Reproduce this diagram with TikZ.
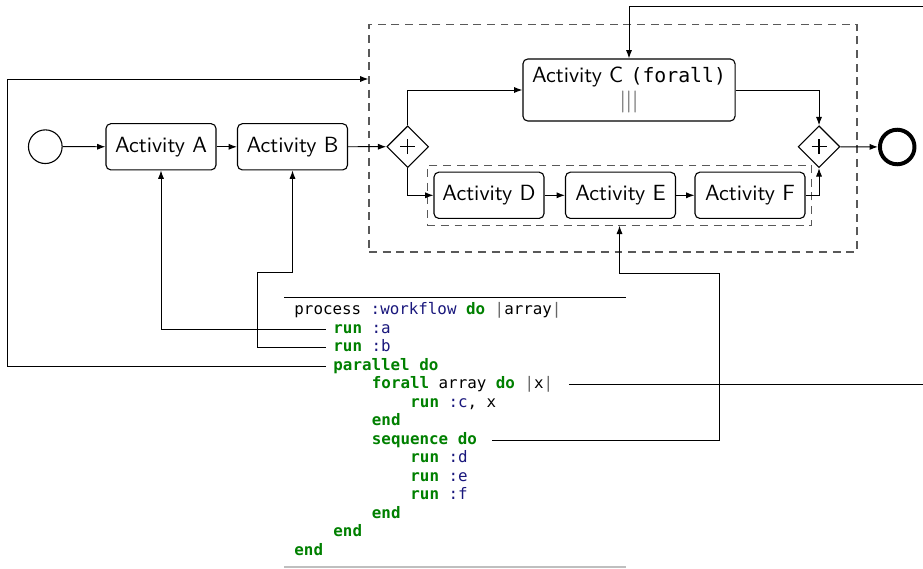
\documentclass[tikz,border=0pt]{standalone}
\usepackage{fontspec}
\usetikzlibrary{arrows.meta,shapes.geometric,fit}
\newfontfamily\dvmono{DejaVu Sans Mono}[Scale=0.9]
\definecolor{kwgreen}{HTML}{008000}
\definecolor{symblue}{HTML}{19177C}
\definecolor{opgray}{HTML}{666666}
% syntax colouring of the Ruby listing
\newcommand\ckw[1]{\textcolor{kwgreen}{\bfseries #1}}
\newcommand\csym[1]{\textcolor{symblue}{#1}}
\newcommand\cop[1]{\textcolor{opgray}{#1}}

\begin{document}
\begin{tikzpicture}[x=0.4545pt,y=-0.4545pt,
  flow/.style={line width=0.45pt,-{Latex[length=3.8pt,width=2.8pt]}},
  activity/.style={draw,rounded corners=2.2pt,line width=0.5pt,
    minimum width=50pt,minimum height=21pt,inner sep=0pt,font=\sffamily},
  gateway/.style={draw,diamond,aspect=1,minimum size=19pt,inner sep=0pt,
    line width=0.5pt,
    path picture={\draw[line width=0.5pt]
      ([xshift=-3.4pt]path picture bounding box.center) -- ++(6.8pt,0pt)
      ([yshift=-3.4pt]path picture bounding box.center) -- ++(0pt,6.8pt);}},
  evstart/.style={draw,circle,minimum size=15.3pt,inner sep=0pt,line width=0.5pt},
  evend/.style={evstart,minimum size=15.7pt,line width=1.8pt},
  group/.style={draw=black!65,dash pattern=on 3.6pt off 2.6pt,line width=0.5pt},
  codeline/.style={anchor=west,inner ysep=0pt,inner xsep=3.4pt,
    text height=5.4pt,text depth=1.6pt,font=\dvmono\fontsize{8}{9}\selectfont}]
\useasboundingbox (0,0) rectangle (923,568);

% process model
\node[evstart] (start) at (45.3,146.7) {};
\node[activity] (A) at (161,146.8) {Activity A};
\node[activity] (B) at (292.5,146.8) {Activity B};
\node[group,inner sep=0pt,fit={(369,24.5) (857,252)}] (par) {};
\node[gateway] (split) at (407.7,146.7) {};
\node[activity,minimum width=96.4pt,minimum height=28.2pt,align=center] (C) at (629,90)
  {Activity C {\dvmono(forall)}\\[-1pt]{\color{black!75}|||}};
\node[activity] (D) at (489,195.3) {Activity D};
\node[activity] (E) at (620.5,195.3) {Activity E};
\node[activity] (F) at (750,195.3) {Activity F};
\node[group,inner sep=2.8pt,fit=(D)(E)(F)] (seq) {};
\node[gateway] (join) at (819,146.7) {};
\node[evend] (end) at (897.2,147) {};

\draw[flow] (start) -- (A);
\draw[flow] (A) -- (B);
\draw[flow] (B) -- (split);
\draw[flow] (split.north) |- (C.west);
\draw[flow] (split.south) |- (D.west);
\draw[flow] (D) -- (E);
\draw[flow] (E) -- (F);
\draw[flow] (C.east) -| (join.north);
\draw[flow] (F.east) -| (join.south);
\draw[flow] (join) -- (end);

% listing
\draw[line width=0.5pt] (284,297.3) -- (626,297.3);
\draw[black!25,line width=0.8pt] (284,567) -- (626,567);
\node[codeline] (cl0)  at (286.5,310.5) {process \csym{:workflow} \ckw{do} \cop{|}array\cop{|}};
\node[codeline] (cl1)  at (325.5,329)   {\ckw{run} \csym{:a}};
\node[codeline] (cl2)  at (325.5,347.5) {\ckw{run} \csym{:b}};
\node[codeline] (cl3)  at (325.5,366)   {\ckw{parallel do}};
\node[codeline] (cl4)  at (364,384.5)   {\ckw{forall} array \ckw{do} \cop{|}x\cop{|}};
\node[codeline] (cl5)  at (402.5,403)   {\ckw{run} \csym{:c}, x};
\node[codeline] (cl6)  at (364,421.5)   {\ckw{end}};
\node[codeline] (cl7)  at (364,440)     {\ckw{sequence do}};
\node[codeline] (cl8)  at (402.5,458.5) {\ckw{run} \csym{:d}};
\node[codeline] (cl9)  at (402.5,477)   {\ckw{run} \csym{:e}};
\node[codeline] (cl10) at (402.5,495.5) {\ckw{run} \csym{:f}};
\node[codeline] (cl11) at (364,514)     {\ckw{end}};
\node[codeline] (cl12) at (325.5,532.5) {\ckw{end}};
\node[codeline] (cl13) at (286.5,551)   {\ckw{end}};

% links from the listing to the model
\coordinate (bturn) at (257,272);
\coordinate (loop) at (7,79);
\coordinate (frturn) at (935,6);
\coordinate (sqturn) at (719,273);
\draw[flow] (cl1.west) -| (A.south);
\draw[flow] (cl2.west) -| (bturn) -| (B.south);
\draw[flow] (cl3.west) -| (loop) -- (loop -| par.west);
\draw[flow] ([xshift=3.5pt]cl4.east) -| (frturn) -| (C.north);
\draw[flow] ([xshift=3.5pt]cl7.east) -| (sqturn) -| (seq.south);
\end{tikzpicture}
\end{document}
